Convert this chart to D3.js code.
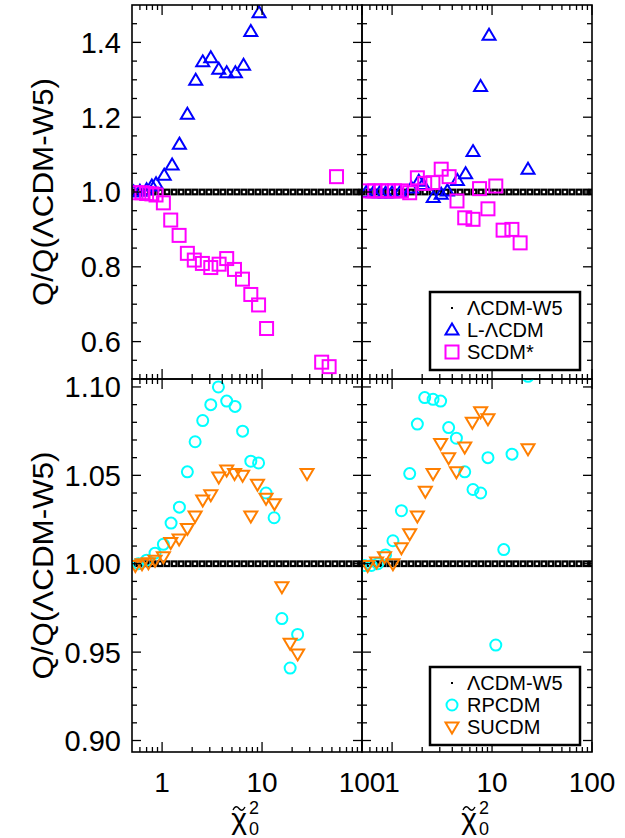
<!DOCTYPE html>
<html>
<head>
<meta charset="utf-8">
<script src="https://cdn.jsdelivr.net/npm/d3@7"></script>
<style>
  body { margin: 0; background: #fff; }
  text { font-family: "Liberation Sans", Arial, Helvetica, sans-serif; fill: #000; }
</style>
</head>
<body>
<div id="chart"></div>
<script>
// reference model: Q/Q = 1 at every chi^2 sample
var w5X = [0.50, 0.587, 0.69, 0.811, 0.953, 1.12, 1.32, 1.55, 1.82, 2.13, 2.51, 2.94,
  3.46, 4.06, 4.78, 5.61, 6.59, 7.74, 9.10, 10.7, 12.6, 14.8, 17.3, 20.4, 23.9,
  28.1, 33.0, 38.8, 45.6, 53.6, 63.0, 74.0, 86.9, 100];

// top left panel
var lcdmLeft = [[0.52, 1.0], [0.6, 1.002], [0.7, 1.006], [0.79, 1.016], [0.87, 1.022],
  [1.05, 1.045], [1.26, 1.072], [1.49, 1.128], [1.79, 1.208], [2.17, 1.299],
  [2.55, 1.348], [3.07, 1.359], [3.69, 1.328], [4.43, 1.319], [5.41, 1.319],
  [6.53, 1.339], [7.72, 1.429], [9.33, 1.479]];
var scdmLeft = [[0.55, 0.998], [0.63, 0.998], [0.70, 0.996], [0.79, 0.995], [0.87, 0.992],
  [1.03, 0.971], [1.22, 0.925], [1.48, 0.884], [1.79, 0.836], [2.10, 0.818],
  [2.53, 0.809], [3.07, 0.798], [3.72, 0.807], [4.43, 0.822], [5.3, 0.793],
  [6.37, 0.767], [7.72, 0.726], [9.23, 0.698], [11.1, 0.635], [39.5, 0.545],
  [46.9, 0.533], [55.6, 1.041]];

// top right panel
var lcdmRight = [[0.55, 0.999], [0.65, 0.998], [0.75, 0.998], [0.86, 0.997], [1.0, 0.998],
  [1.2, 0.999], [1.56, 1.011], [1.85, 1.029], [2.04, 1.02], [2.58, 0.985],
  [3.1, 0.994], [3.57, 1.003], [4.5, 1.031], [5.44, 1.049], [6.45, 1.108],
  [7.68, 1.282], [9.33, 1.419], [22.9, 1.061]];
var scdmRight = [[0.57, 1.003], [0.67, 1.003], [0.78, 1.003], [0.91, 1.003], [1.06, 1.003],
  [1.24, 1.003], [1.5, 0.998], [1.79, 1.038], [2.12, 1.023], [2.56, 1.025],
  [3.1, 1.061], [3.72, 1.041], [4.46, 0.976], [5.33, 0.931], [6.45, 0.927],
  [7.5, 1.009], [9.1, 0.955], [10.9, 1.016], [12.9, 0.898], [15.8, 0.900],
  [19.1, 0.864]];

// bottom left panel
var rpcdmLeft = [[0.58, 1.0], [0.70, 1.002], [0.85, 1.006], [1.03, 1.011], [1.23, 1.023],
  [1.49, 1.032], [1.79, 1.052], [2.14, 1.069], [2.55, 1.081], [3.07, 1.09],
  [3.66, 1.1], [4.43, 1.092], [5.37, 1.089], [6.39, 1.075], [7.72, 1.058],
  [9.23, 1.057], [10.96, 1.04], [13.2, 1.026], [15.8, 0.969], [19.1, 0.941],
  [22.7, 0.96]];
var sucdmLeft = [[0.54, 0.999], [0.63, 1.0], [0.73, 1.0005], [0.85, 1.002], [1.03, 1.004],
  [1.22, 1.012], [1.48, 1.014], [1.79, 1.02], [2.14, 1.027], [2.55, 1.036],
  [3.07, 1.039], [3.69, 1.049], [4.43, 1.053], [5.31, 1.051], [6.39, 1.05],
  [7.72, 1.027], [9.0, 1.045], [10.96, 1.037], [13.3, 1.034], [15.8, 0.987],
  [19.1, 0.955], [22.7, 0.949], [28.2, 1.051]];

// bottom right panel
var rpcdmRight = [[0.53, 0.999], [0.62, 0.999], [0.72, 1.0], [0.86, 1.005], [1.02, 1.013],
  [1.24, 1.03], [1.5, 1.051], [1.79, 1.079], [2.12, 1.094], [2.57, 1.093],
  [3.06, 1.092], [3.68, 1.077], [4.4, 1.071], [5.33, 1.052], [6.45, 1.042],
  [7.69, 1.04], [9.1, 1.06], [10.9, 0.954], [13.1, 1.008], [15.85, 1.062],
  [22.9, 1.106]];
var sucdmRight = [[0.57, 0.999], [0.70, 1.001], [0.84, 1.004], [1.02, 1.0], [1.24, 1.009],
  [1.5, 1.017], [1.79, 1.027], [2.15, 1.041], [2.57, 1.051], [3.06, 1.068],
  [3.68, 1.06], [4.4, 1.052], [5.33, 1.066], [6.35, 1.08], [7.69, 1.086],
  [9.1, 1.082], [22.9, 1.065]];

var xTickValues = [1, 10, 100];
var topYTicks = [0.6, 0.8, 1.0, 1.2, 1.4];
var bottomYTicks = [0.90, 0.95, 1.00, 1.05, 1.10];

var topLegend = [["w5", "\u039BCDM-W5"], ["tri", "L-\u039BCDM"], ["sq", "SCDM*"]];
var bottomLegend = [["w5", "\u039BCDM-W5"], ["circ", "RPCDM"], ["dtri", "SUCDM"]];

var svgWidth = 625, svgHeight = 838;
var panelLeft = 132, panelW = 230;
var topY0 = 5, midY = 379, botY1 = 752;

var svg = d3.select("#chart").append("svg")
  .attr("width", svgWidth)
  .attr("height", svgHeight);

var colors = { tri: "#0000ff", sq: "#ff00ff", circ: "#00ffff", dtri: "#ff7f00" };

function drawMarker(sel, kind) {
  if (kind === "tri") {
    sel.append("path").attr("d", "M0,-6.5L6.5,4.5L-6.5,4.5Z")
      .attr("fill", "none").attr("stroke", colors.tri).attr("stroke-width", 2);
  } else if (kind === "dtri") {
    sel.append("path").attr("d", "M0,6.5L6.5,-4.5L-6.5,-4.5Z")
      .attr("fill", "none").attr("stroke", colors.dtri).attr("stroke-width", 2);
  } else if (kind === "sq") {
    sel.append("rect").attr("x", -6.5).attr("y", -6.5).attr("width", 13).attr("height", 13)
      .attr("fill", "none").attr("stroke", colors.sq).attr("stroke-width", 2);
  } else if (kind === "circ") {
    sel.append("circle").attr("r", 5.5)
      .attr("fill", "none").attr("stroke", colors.circ).attr("stroke-width", 2);
  } else if (kind === "w5") {
    sel.append("rect").attr("x", -2.3).attr("y", -2.3).attr("width", 4.6).attr("height", 4.6)
      .attr("fill", "#fff").attr("stroke", "#000").attr("stroke-width", 2.2);
  }
}

function drawPanel(opts) {
  var x = d3.scaleLog().domain([0.5, 100]).range([opts.x0, opts.x0 + panelW]);
  var y = d3.scaleLinear().domain(opts.yDomain).range([opts.y1, opts.y0]);
  var id = "clip" + opts.name;

  svg.append("clipPath").attr("id", id)
    .append("rect")
    .attr("x", opts.x0).attr("y", opts.y0)
    .attr("width", panelW).attr("height", opts.y1 - opts.y0);

  var marks = svg.append("g").attr("clip-path", "url(#" + id + ")");

  // reference line of small squares
  marks.selectAll(".w5").data(w5X).enter()
    .append("g")
    .attr("transform", d => `translate(${x(d)},${y(1.0)})`)
    .each(function () { drawMarker(d3.select(this), "w5"); });

  opts.series.forEach(function (s) {
    marks.selectAll(".m" + s.kind).data(s.data).enter()
      .append("g")
      .attr("transform", d => `translate(${x(d[0])},${y(d[1])})`)
      .each(function () { drawMarker(d3.select(this), s.kind); });
  });

  var axes = svg.append("g").attr("stroke", "#000").attr("stroke-width", 1.3);

  // x ticks, inward on top and bottom
  var xMinor = [];
  [0.1, 1, 10].forEach(function (dec) {
    for (var k = 2; k <= 9; k++) {
      var v = k * dec;
      if (v > 0.5 && v < 100) xMinor.push(v);
    }
  });
  xTickValues.forEach(function (v) {
    axes.append("line").attr("x1", x(v)).attr("x2", x(v)).attr("y1", opts.y1).attr("y2", opts.y1 - 10);
    axes.append("line").attr("x1", x(v)).attr("x2", x(v)).attr("y1", opts.y0).attr("y2", opts.y0 + 10);
  });
  xMinor.forEach(function (v) {
    axes.append("line").attr("x1", x(v)).attr("x2", x(v)).attr("y1", opts.y1).attr("y2", opts.y1 - 5);
    axes.append("line").attr("x1", x(v)).attr("x2", x(v)).attr("y1", opts.y0).attr("y2", opts.y0 + 5);
  });

  // y ticks, inward on left and right
  opts.yMajor.forEach(function (v) {
    axes.append("line").attr("x1", opts.x0).attr("x2", opts.x0 + 9).attr("y1", y(v)).attr("y2", y(v));
    axes.append("line").attr("x1", opts.x0 + panelW).attr("x2", opts.x0 + panelW - 9).attr("y1", y(v)).attr("y2", y(v));
  });
  opts.yMinor.forEach(function (v) {
    axes.append("line").attr("x1", opts.x0).attr("x2", opts.x0 + 5).attr("y1", y(v)).attr("y2", y(v));
    axes.append("line").attr("x1", opts.x0 + panelW).attr("x2", opts.x0 + panelW - 5).attr("y1", y(v)).attr("y2", y(v));
  });

  axes.append("rect")
    .attr("x", opts.x0).attr("y", opts.y0)
    .attr("width", panelW).attr("height", opts.y1 - opts.y0)
    .attr("fill", "none").attr("stroke-width", 1.6);

  if (opts.yLabels) {
    svg.selectAll(".yl" + opts.name).data(opts.yMajor).enter()
      .append("text")
      .attr("x", opts.x0 - 11)
      .attr("y", d => y(d))
      .attr("dy", "0.36em")
      .attr("text-anchor", "end")
      .style("font-size", "29px")
      .text(d => opts.yFmt(d));

    svg.append("text")
      .attr("transform", `translate(53, ${(opts.y0 + opts.y1) / 2}) rotate(-90)`)
      .attr("text-anchor", "middle")
      .attr("textLength", 228)
      .attr("lengthAdjust", "spacingAndGlyphs")
      .style("font-size", "29px")
      .text("Q/Q(\u039BCDM-W5)");
  }

  if (opts.xLabels) {
    svg.selectAll(".xl" + opts.name).data(xTickValues).enter()
      .append("text")
      .attr("x", d => x(d))
      .attr("y", 792)
      .attr("text-anchor", "middle")
      .style("font-size", "28px")
      .text(d => d3.format("d")(d));

    var cx = opts.x0 + panelW / 2;
    svg.append("text")
      .attr("x", cx - 8).attr("y", 829)
      .attr("text-anchor", "middle")
      .style("font-size", "30px")
      .text("\u03C7");
    // tilde over the chi
    svg.append("path")
      .attr("d", `M${cx - 14},${810} C${cx - 12},${806} ${cx - 10},${806} ${cx - 8},${808.5}` +
        ` C${cx - 6},${811} ${cx - 4},${811} ${cx - 2},${807}`)
      .attr("fill", "none").attr("stroke", "#000").attr("stroke-width", 1.4);
    svg.append("text")
      .attr("x", cx + 2).attr("y", 814)
      .style("font-size", "18px")
      .text("2");
    svg.append("text")
      .attr("x", cx + 2).attr("y", 835)
      .style("font-size", "18px")
      .text("0");
  }

  if (opts.legend) {
    var lg = svg.append("g");
    lg.append("rect")
      .attr("x", 430).attr("y", opts.legend.top)
      .attr("width", 150).attr("height", 78)
      .attr("fill", "#fff").attr("stroke", "#000").attr("stroke-width", 2.5);
    opts.legend.items.forEach(function (it, i) {
      var ly = opts.legend.top + 16 + i * 22;
      var m = lg.append("g").attr("transform", `translate(452,${ly})`);
      if (it[0] === "w5") {
        m.append("rect").attr("x", -1).attr("y", -1).attr("width", 2).attr("height", 2).attr("fill", "#000");
      } else {
        drawMarker(m, it[0]);
      }
      lg.append("text")
        .attr("x", 467).attr("y", ly)
        .attr("dy", "0.36em")
        .style("font-size", "20px")
        .text(it[1]);
    });
  }
}

var topMinor = d3.range(0.55, 1.5, 0.05).filter(v => Math.abs(Math.round(v * 5) - v * 5) > 0.01);
var bottomMinor = [0.91, 0.92, 0.93, 0.94, 0.96, 0.97, 0.98, 0.99, 1.01, 1.02, 1.03, 1.04, 1.06, 1.07, 1.08, 1.09];

drawPanel({
  name: "tl", x0: panelLeft, y0: topY0, y1: midY, yDomain: [0.5, 1.5],
  yMajor: topYTicks, yMinor: topMinor, yLabels: true, yFmt: d3.format(".1f"),
  series: [{ kind: "tri", data: lcdmLeft }, { kind: "sq", data: scdmLeft }]
});
drawPanel({
  name: "tr", x0: panelLeft + panelW, y0: topY0, y1: midY, yDomain: [0.5, 1.5],
  yMajor: topYTicks, yMinor: topMinor,
  series: [{ kind: "tri", data: lcdmRight }, { kind: "sq", data: scdmRight }],
  legend: { top: 292, items: topLegend }
});
drawPanel({
  name: "bl", x0: panelLeft, y0: midY, y1: botY1, yDomain: [0.8935, 1.1045],
  yMajor: bottomYTicks, yMinor: bottomMinor, yLabels: true, yFmt: d3.format(".2f"),
  xLabels: true,
  series: [{ kind: "circ", data: rpcdmLeft }, { kind: "dtri", data: sucdmLeft }]
});
drawPanel({
  name: "br", x0: panelLeft + panelW, y0: midY, y1: botY1, yDomain: [0.8935, 1.1045],
  yMajor: bottomYTicks, yMinor: bottomMinor, xLabels: true,
  series: [{ kind: "circ", data: rpcdmRight }, { kind: "dtri", data: sucdmRight }],
  legend: { top: 667, items: bottomLegend }
});
</script>
</body>
</html>
